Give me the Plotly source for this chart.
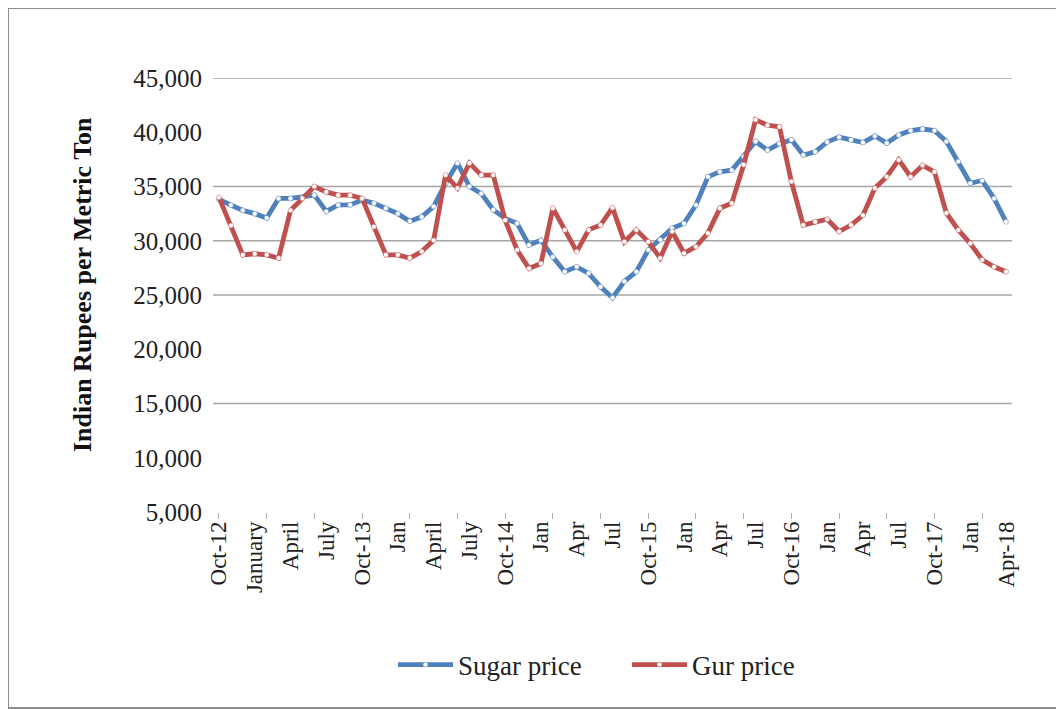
import plotly.graph_objects as go

# Monthly observations, Oct-2012 .. Apr-2018 (67 months)
month_index = list(range(67))

sugar_price = [
    33800, 33300, 32800, 32500, 32100, 33900, 33900, 34050, 34200, 32700,
    33300, 33300, 33750, 33450, 33000, 32500, 31800, 32200, 33150, 35300,
    37150, 35000, 34350, 32850, 32050, 31600, 29600, 30050, 28500, 27150,
    27600, 27000, 25750, 24750, 26250, 27150, 29150, 30100, 31150, 31600,
    33300, 35900, 36350, 36500, 37750, 39150, 38350, 38950, 39300, 37900,
    38200, 39100, 39550, 39300, 39050, 39650, 39000, 39750, 40150, 40300,
    40150, 39150, 37300, 35300, 35550, 33900, 31750,
]

gur_price = [
    34000, 31400, 28700, 28800, 28700, 28400, 32800, 33900, 35000, 34500,
    34200, 34200, 33900, 31300, 28700, 28700, 28400, 29000, 30050, 36050,
    34850, 37150, 36050, 36050, 31900, 29150, 27450, 27900, 33000, 31000,
    29000, 31000, 31450, 33050, 29900, 31000, 29900, 28400, 30850, 28850,
    29450, 30700, 33000, 33450, 37000, 41150, 40650, 40500, 35450, 31450,
    31750, 31980, 30850, 31450, 32350, 34850, 35900, 37450, 35900, 36950,
    36350, 32550, 31000, 29750, 28250, 27600, 27150,
]

label_positions = list(range(0, 67, 3))
tick_labels = [
    "Oct-12", "January", "April", "July", "Oct-13", "Jan", "April", "July",
    "Oct-14", "Jan", "Apr", "Jul", "Oct-15", "Jan", "Apr", "Jul", "Oct-16",
    "Jan", "Apr", "Jul", "Oct-17", "Jan", "Apr-18",
]
tick_mark_positions = list(range(0, 67, 4))
y_tick_values = list(range(5000, 45001, 5000))
grid_values = [15000, 25000, 30000, 35000, 45000]
y_title = "Indian Rupees per Metric Ton"

SERIF = "Liberation Serif, Times New Roman, serif"
BLUE = "#4F81BD"
RED = "#C0504D"

fig = go.Figure()
fig.add_trace(go.Scatter(
    x=month_index, y=sugar_price, name="Sugar price", mode="lines+markers",
    line=dict(color=BLUE, width=4.8),
    marker=dict(symbol="circle", size=5, color="white", line=dict(color=BLUE, width=0.5)),
))
fig.add_trace(go.Scatter(
    x=month_index, y=gur_price, name="Gur price", mode="lines+markers",
    line=dict(color=RED, width=4.8),
    marker=dict(symbol="circle", size=5, color="white", line=dict(color=RED, width=0.5)),
))
# invisible trace on secondary x axis for the tick marks
fig.add_trace(go.Scatter(x=[0], y=[None], xaxis="x2", showlegend=False, hoverinfo="skip"))

shapes = []
for g in grid_values:
    shapes.append(dict(type="line", xref="paper", yref="y", x0=0, x1=1, y0=g, y1=g,
                       line=dict(color="#a6a6a6", width=1.5), layer="below"))
# outer chart border
shapes.append(dict(type="rect", xref="paper", yref="paper",
                   x0=-0.2566, x1=1.0613, y0=-0.4516, y1=1.1613,
                   line=dict(color="#8c8c8c", width=2)))

fig.update_layout(
    width=1064, height=709,
    margin=dict(l=205, r=60, t=70, b=205),
    paper_bgcolor="white", plot_bgcolor="white",
    font=dict(family=SERIF, color="#222222"),
    shapes=shapes,
    showlegend=True,
    legend=dict(orientation="h", x=0.2253, xanchor="left", y=-0.3525, yanchor="middle",
                font=dict(family=SERIF, size=27, color="#222222"),
                itemwidth=55, entrywidth=164, entrywidthmode="pixels", tracegroupgap=0),
    annotations=[dict(text="<b>" + y_title + "</b>", xref="paper", yref="paper",
                      x=-0.164, y=0.525, xanchor="center", yanchor="middle",
                      textangle=-90, showarrow=False,
                      font=dict(family=SERIF, size=26, color="#111111"))],
    xaxis=dict(range=[-0.5, 66.5], tickmode="array", tickvals=label_positions,
               ticktext=tick_labels, tickangle=-90, ticks="", showgrid=False,
               zeroline=False, showline=False, automargin=False,
               tickfont=dict(family=SERIF, size=23, color="#222222"),
               ticklabelstandoff=4),
    xaxis2=dict(range=[-0.5, 66.5], overlaying="x", side="bottom", anchor="y",
                tickmode="array", tickvals=tick_mark_positions, showticklabels=False,
                ticks="outside", ticklen=6, tickcolor="#b0b0b0", tickwidth=1,
                showgrid=False, zeroline=False, showline=False),
    yaxis=dict(range=[5000, 45000], tickmode="array", tickvals=y_tick_values,
               tickformat=",d", showgrid=False, zeroline=False, showline=False,
               ticks="", tickfont=dict(family=SERIF, size=25, color="#222222"),
               ticklabelstandoff=10, automargin=False),
)

fig.write_html("out.html")
